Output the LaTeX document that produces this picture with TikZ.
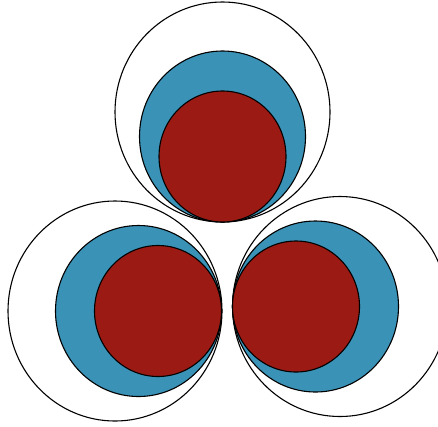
\documentclass[tikz,border=0pt]{standalone}
\definecolor{ringblue}{RGB}{58,146,183}
\definecolor{corered}{RGB}{155,27,20}
\tikzset{
  outerring/.style={draw=black, line width=1.1pt, fill=none},
  bluering/.style={draw=black, line width=1.1pt, fill=ringblue},
  redcore/.style={draw=black, line width=1.1pt, fill=corered},
}
\begin{document}
\begin{tikzpicture}[x=1pt,y=-1pt]
\useasboundingbox (0,0) rectangle (438,426);
% top group (tangent at bottom)
\draw[outerring] (222.5,112) ellipse [x radius=107.5, y radius=110];
\draw[bluering] (222.5,136.5) ellipse [x radius=83, y radius=85.5];
\draw[redcore] (222.5,156.5) ellipse [x radius=63.5, y radius=65.5];
% left group (tangent at right)
\draw[outerring] (115,311) ellipse [x radius=107, y radius=110];
\draw[bluering] (138.5,311) ellipse [x radius=83, y radius=85.5];
\draw[redcore] (158,311) ellipse [x radius=63.5, y radius=65.5];
% right group (tangent at left)
\draw[outerring] (340,306.5) ellipse [x radius=107.5, y radius=110];
\draw[bluering] (315.5,306.5) ellipse [x radius=83, y radius=85.5];
\draw[redcore] (296,306.5) ellipse [x radius=63.5, y radius=65.5];
\end{tikzpicture}
\end{document}
